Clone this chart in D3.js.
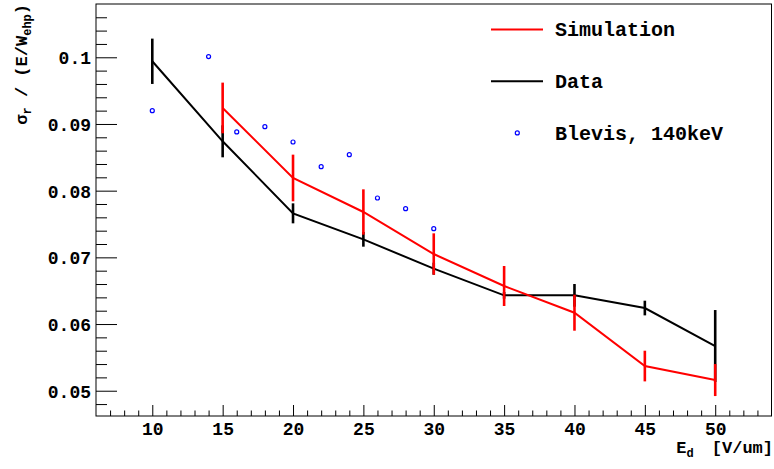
<!DOCTYPE html>
<html>
<head>
<meta charset="utf-8">
<script src="https://cdn.jsdelivr.net/npm/d3@7"></script>
<style>
  html, body { margin: 0; padding: 0; background: #fff; }
  svg { display: block; }
  text { font-family: "Liberation Mono", "DejaVu Sans Mono", monospace; font-weight: bold; fill: #000; }
</style>
</head>
<body>
<svg id="chart" width="774" height="469"></svg>
<script>
// Drift field values (V/um)
const simField = [15, 20, 25, 30, 35, 40, 45, 50];
const simValue = [0.0924, 0.0819, 0.0768, 0.0705, 0.0657, 0.0617, 0.0537, 0.0516];
const simError = [0.0038, 0.0035, 0.0034, 0.0031, 0.0030, 0.0027, 0.0023, 0.0024];

const dataField = [10, 15, 20, 25, 30, 35, 40, 45, 50];
const dataValue = [0.0994, 0.0874, 0.0766, 0.0727, 0.0683, 0.0643, 0.0643, 0.0624, 0.0567];
const dataError = [0.0034, 0.0024, 0.0015, 0.0011, 0.0009, 0.0005, 0.0017, 0.0011, 0.0054];

const blevisField = [10, 14, 16, 18, 20, 22, 24, 26, 28, 30];
const blevisValue = [0.0920, 0.1001, 0.0888, 0.0896, 0.0873, 0.0836, 0.0854, 0.0789, 0.0773, 0.0743];

const xTicks = [10, 15, 20, 25, 30, 35, 40, 45, 50];
const yTicks = [0.05, 0.06, 0.07, 0.08, 0.09, 0.1];

const legendItems = [
  { label: "Simulation", kind: "line", color: "#ff0000" },
  { label: "Data", kind: "line", color: "#000000" },
  { label: "Blevis, 140keV", kind: "marker", color: "#0000ff" }
];

const svg = d3.select("#chart");
const frame = { left: 96, right: 771.5, top: 4, bottom: 416 };

const x = d3.scaleLinear().domain([6, 54]).range([frame.left, frame.right]);
const y = d3.scaleLinear().domain([0.04621, 0.10799]).range([frame.bottom, frame.top]);

// Frame
svg.append("rect")
  .attr("x", frame.left).attr("y", frame.top)
  .attr("width", frame.right - frame.left).attr("height", frame.bottom - frame.top)
  .attr("fill", "none").attr("stroke", "#000").attr("stroke-width", 1);

// X axis: major ticks every 5, minor every 1
const xAxisG = svg.append("g").attr("transform", `translate(0,${frame.bottom})`);
const xMinor = d3.range(7, 54, 1).filter(v => !xTicks.includes(v));
xAxisG.call(d3.axisBottom(x).tickValues(xMinor).tickSize(-5.5).tickFormat(""))
  .call(g => g.select(".domain").remove());
xAxisG.append("g").call(d3.axisBottom(x).tickValues(xTicks).tickSize(-11).tickPadding(0).tickFormat(d3.format("d")))
  .call(g => g.select(".domain").remove())
  .call(g => g.selectAll("text").attr("dy", null).attr("y", 19).style("font-size", "18px"));

// Y axis: major ticks every 0.01, minor every 0.002
const yAxisG = svg.append("g").attr("transform", `translate(${frame.left},0)`);
const yMinor = d3.range(0, 32).map(i => +(0.048 + i * 0.002).toFixed(3))
  .filter(v => v <= 0.1079 && !yTicks.some(t => Math.abs(t - v) < 1e-9));
yAxisG.call(d3.axisLeft(y).tickValues(yMinor).tickSize(-11).tickFormat(""))
  .call(g => g.select(".domain").remove());
yAxisG.append("g").call(d3.axisLeft(y).tickValues(yTicks).tickSize(-21).tickPadding(0).tickFormat(d => d3.format("")(+d.toFixed(2))))
  .call(g => g.select(".domain").remove())
  .call(g => g.selectAll("text").attr("x", -5).attr("dy", "0.36em").style("font-size", "18px"));
svg.selectAll(".tick line").attr("stroke", "#000").attr("stroke-width", 1);

// Draws one series as a polyline with vertical error bars
function drawSeries(xs, ys, es, color) {
  const pts = xs.map((v, i) => [v, ys[i], es[i]]);
  const g = svg.append("g");
  g.append("path")
    .datum(pts)
    .attr("fill", "none").attr("stroke", color).attr("stroke-width", 2)
    .attr("d", d3.line().x(d => x(d[0])).y(d => y(d[1])));
  g.selectAll("line.err").data(pts).join("line")
    .attr("class", "err")
    .attr("x1", d => x(d[0])).attr("x2", d => x(d[0]))
    .attr("y1", d => y(d[1] - d[2])).attr("y2", d => y(d[1] + d[2]))
    .attr("stroke", color).attr("stroke-width", 2.6);
}
drawSeries(dataField, dataValue, dataError, "#000000");
drawSeries(simField, simValue, simError, "#ff0000");

// Reference measurements as open circles
svg.append("g").selectAll("circle").data(blevisField.map((v, i) => [v, blevisValue[i]])).join("circle")
  .attr("cx", d => x(d[0])).attr("cy", d => y(d[1])).attr("r", 2)
  .attr("fill", "none").attr("stroke", "#0000ff").attr("stroke-width", 1.2);

// Legend
const leg = svg.append("g");
legendItems.forEach((item, i) => {
  const ly = 29.5 + i * 51.7;
  if (item.kind === "line") {
    leg.append("line").attr("x1", 491).attr("x2", 543).attr("y1", ly).attr("y2", ly)
      .attr("stroke", item.color).attr("stroke-width", 2);
  } else {
    leg.append("circle").attr("cx", 517.3).attr("cy", ly).attr("r", 2)
      .attr("fill", "none").attr("stroke", item.color).attr("stroke-width", 1.2);
  }
  leg.append("text").attr("x", 555).attr("y", ly).attr("dy", "0.34em")
    .style("font-size", "20px").text(item.label);
});

// X axis title
const xt = svg.append("text").attr("x", 773).attr("y", 453).attr("text-anchor", "end").style("font-size", "17px");
xt.append("tspan").text("E");
xt.append("tspan").attr("dy", 4).style("font-size", "12px").text("d");
xt.append("tspan").attr("dy", -4).attr("dx", 8).text(" [V/um]");

// Y axis title
const yt = svg.append("text").attr("transform", "translate(27,4) rotate(-90)").attr("text-anchor", "end").style("font-size", "17px");
yt.append("tspan").text("σ");
yt.append("tspan").attr("dy", 4).style("font-size", "12px").text("r");
yt.append("tspan").attr("dy", -4).text(" / (E/W");
yt.append("tspan").attr("dy", 4).style("font-size", "12px").text("ehp");
yt.append("tspan").attr("dy", -4).text(")");
</script>
</body>
</html>
